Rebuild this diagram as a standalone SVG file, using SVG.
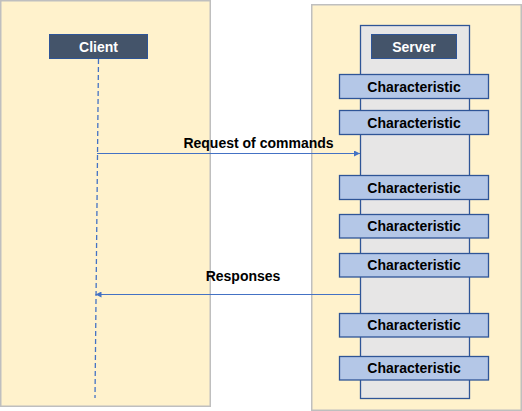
<svg xmlns="http://www.w3.org/2000/svg" width="522" height="411" viewBox="0 0 522 411">
<defs>
<style>
.panel{fill:#fff2cc;stroke:#bfbfbf;stroke-width:1.5}
.head{fill:#44546a;stroke:#2f5597;stroke-width:1}
.headtxt{fill:#ffffff;font-family:"Liberation Sans",Arial,sans-serif;font-weight:bold;font-size:14px;text-anchor:middle}
.bar{fill:#e7e6e6;stroke:#2f5597;stroke-width:1.3}
.ch{fill:#b4c7e7;stroke:#2f5597;stroke-width:1.3}
.chtxt{fill:#000000;font-family:"Liberation Sans",Arial,sans-serif;font-weight:bold;font-size:14px;text-anchor:middle}
.lbl{fill:#000000;font-family:"Liberation Sans",Arial,sans-serif;font-weight:bold;font-size:14px;text-anchor:middle}
.msg{stroke:#4472c4;stroke-width:1.2;fill:none}
.life{stroke:#4472c4;stroke-width:1.3;stroke-dasharray:5 3;fill:none}
</style>
<marker id="arr" viewBox="0 0 10 10" refX="10" refY="5" markerWidth="6" markerHeight="6" markerUnits="userSpaceOnUse" orient="auto">
<path d="M0,0 L10,5 L0,10 Z" fill="#4472c4"/>
</marker>
</defs>
<g id="client-panel"><rect class="panel" x="0.75" y="0.75" width="209.5" height="405.5"/></g>
<g id="server-panel"><rect class="panel" x="311.75" y="4.75" width="209.5" height="405.5"/></g>
<g id="server-bar"><rect class="bar" x="360.5" y="25.5" width="109" height="373"/></g>
<g id="client"><rect class="head" x="49.5" y="34.5" width="98" height="24"/><text class="headtxt" x="98.5" y="51.5">Client</text></g>
<g id="server"><rect class="head" x="371.5" y="34.5" width="85" height="24"/><text class="headtxt" x="414" y="51.5">Server</text></g>
<g id="char1"><rect class="ch" x="339.5" y="74.5" width="149" height="24"/><text class="chtxt" x="414" y="91.5">Characteristic</text></g>
<g id="char2"><rect class="ch" x="339.5" y="110.5" width="149" height="24"/><text class="chtxt" x="414" y="127.5">Characteristic</text></g>
<g id="char3"><rect class="ch" x="339.5" y="175.5" width="149" height="24"/><text class="chtxt" x="414" y="192.5">Characteristic</text></g>
<g id="char4"><rect class="ch" x="339.5" y="214.5" width="149" height="23.5"/><text class="chtxt" x="414" y="231.2">Characteristic</text></g>
<g id="char5"><rect class="ch" x="339.5" y="253.5" width="149" height="23.5"/><text class="chtxt" x="414" y="270.2">Characteristic</text></g>
<g id="char6"><rect class="ch" x="339.5" y="313.5" width="149" height="23.5"/><text class="chtxt" x="414" y="330.2">Characteristic</text></g>
<g id="char7"><rect class="ch" x="339.5" y="356.5" width="149" height="23.5"/><text class="chtxt" x="414" y="373.2">Characteristic</text></g>
<g id="connectors">
<path class="life" d="M98.5,59 L95,398"/>
<path class="msg" d="M97,153.5 L360,153.5" marker-end="url(#arr)"/>
<text class="lbl" x="258.5" y="147.5">Request of commands</text>
<path class="msg" d="M360,294.5 L95.5,294.5" marker-end="url(#arr)"/>
<text class="lbl" x="243" y="280.5">Responses</text>
</g>
</svg>
